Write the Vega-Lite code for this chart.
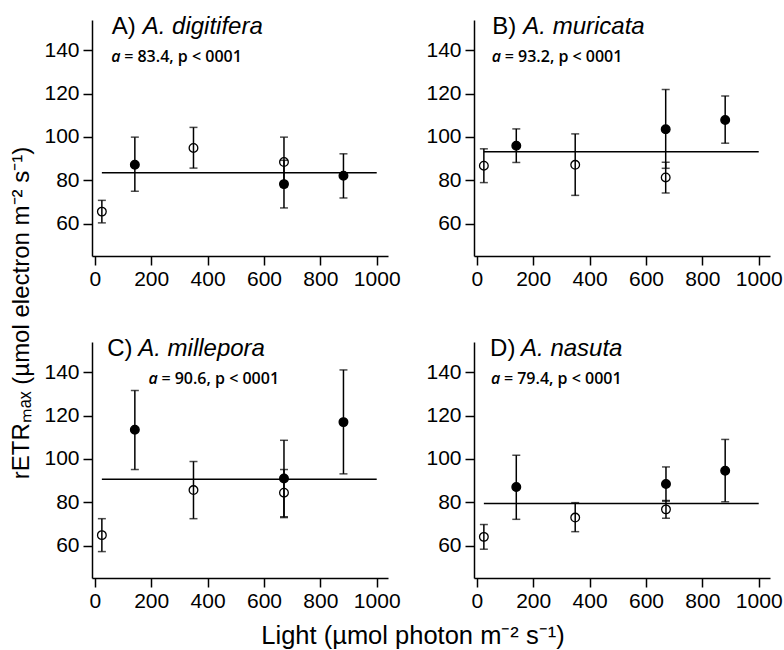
{
  "$schema": "https://vega.github.io/schema/vega-lite/v6.json",
  "padding": {"left": 9, "top": 15, "right": 2, "bottom": 2},
  "data": {"values": [
    {"kind": "pt", "r": "1", "c": "1", "x": 25, "y": 65.5, "lo": 60.3, "hi": 70.7, "t": "open"},
    {"kind": "pt", "r": "1", "c": "1", "x": 142, "y": 87.1, "lo": 74.9, "hi": 99.9, "t": "filled"},
    {"kind": "pt", "r": "1", "c": "1", "x": 350, "y": 94.9, "lo": 85.6, "hi": 104.4, "t": "open"},
    {"kind": "pt", "r": "1", "c": "1", "x": 671, "y": 88.4, "lo": 77.0, "hi": 99.9, "t": "open"},
    {"kind": "pt", "r": "1", "c": "1", "x": 671, "y": 78.2, "lo": 67.2, "hi": 89.2, "t": "filled"},
    {"kind": "pt", "r": "1", "c": "1", "x": 882, "y": 82.1, "lo": 71.8, "hi": 92.2, "t": "filled"},
    {"kind": "pt", "r": "1", "c": "2", "x": 25, "y": 86.7, "lo": 78.9, "hi": 94.5, "t": "open"},
    {"kind": "pt", "r": "1", "c": "2", "x": 140, "y": 95.9, "lo": 88.2, "hi": 103.7, "t": "filled"},
    {"kind": "pt", "r": "1", "c": "2", "x": 349, "y": 87.1, "lo": 73.0, "hi": 101.4, "t": "open"},
    {"kind": "pt", "r": "1", "c": "2", "x": 670, "y": 103.5, "lo": 85.5, "hi": 121.9, "t": "filled"},
    {"kind": "pt", "r": "1", "c": "2", "x": 670, "y": 81.3, "lo": 74.1, "hi": 88.3, "t": "open"},
    {"kind": "pt", "r": "1", "c": "2", "x": 881, "y": 107.8, "lo": 97.1, "hi": 118.9, "t": "filled"},
    {"kind": "pt", "r": "2", "c": "1", "x": 25, "y": 64.8, "lo": 57.2, "hi": 72.4, "t": "open"},
    {"kind": "pt", "r": "2", "c": "1", "x": 142, "y": 113.5, "lo": 95.1, "hi": 131.6, "t": "filled"},
    {"kind": "pt", "r": "2", "c": "1", "x": 350, "y": 85.6, "lo": 72.4, "hi": 98.8, "t": "open"},
    {"kind": "pt", "r": "2", "c": "1", "x": 671, "y": 91.0, "lo": 73.3, "hi": 108.6, "t": "filled"},
    {"kind": "pt", "r": "2", "c": "1", "x": 671, "y": 84.4, "lo": 72.9, "hi": 95.1, "t": "open"},
    {"kind": "pt", "r": "2", "c": "1", "x": 882, "y": 117.0, "lo": 93.1, "hi": 141.1, "t": "filled"},
    {"kind": "pt", "r": "2", "c": "2", "x": 25, "y": 64.0, "lo": 58.3, "hi": 69.7, "t": "open"},
    {"kind": "pt", "r": "2", "c": "2", "x": 140, "y": 87.0, "lo": 72.1, "hi": 101.7, "t": "filled"},
    {"kind": "pt", "r": "2", "c": "2", "x": 349, "y": 72.9, "lo": 66.4, "hi": 79.8, "t": "open"},
    {"kind": "pt", "r": "2", "c": "2", "x": 671, "y": 88.4, "lo": 80.5, "hi": 96.3, "t": "filled"},
    {"kind": "pt", "r": "2", "c": "2", "x": 671, "y": 76.7, "lo": 72.6, "hi": 80.8, "t": "open"},
    {"kind": "pt", "r": "2", "c": "2", "x": 881, "y": 94.5, "lo": 80.2, "hi": 109.0, "t": "filled"},
    {"kind": "lab", "r": "1", "c": "1", "letter": "A)", "species": "A. digitifera", "alpha": 83.4, "stat": "= 83.4, p < 0001", "lx": 60, "ax": 58},
    {"kind": "lab", "r": "1", "c": "2", "letter": "B)", "species": "A. muricata", "alpha": 93.2, "stat": "= 93.2, p < 0001", "lx": 55, "ax": 53},
    {"kind": "lab", "r": "2", "c": "1", "letter": "C)", "species": "A. millepora", "alpha": 90.6, "stat": "= 90.6, p < 0001", "lx": 44, "ax": 190},
    {"kind": "lab", "r": "2", "c": "2", "letter": "D)", "species": "A. nasuta", "alpha": 79.4, "stat": "= 79.4, p < 0001", "lx": 47, "ax": 50}
  ]},
  "facet": {
    "row": {"field": "r", "type": "nominal", "header": {"labels": false, "title": "rETRₘₐₓ (µmol electron m⁻² s⁻¹)       ", "titleFont": "Liberation Sans", "titleFontSize": 24, "titleFontWeight": "normal", "titleColor": "black", "titlePadding": -1}},
    "column": {"field": "c", "type": "nominal", "header": {"labels": false, "title": "Light (µmol photon m⁻² s⁻¹)            ", "titleOrient": "bottom", "titleFont": "Liberation Sans", "titleFontSize": 25.5, "titleFontWeight": "normal", "titleColor": "black", "titlePadding": 3}}
  },
  "spacing": {"row": 48, "column": 24},
  "resolve": {"axis": {"x": "independent", "y": "independent"}},
  "spec": {
    "width": 296,
    "height": 236,
    "layer": [
      {
        "transform": [{"filter": "datum.kind == 'pt'"}],
        "mark": {"type": "errorbar", "ticks": {"size": 8}, "thickness": 1.5, "color": "black"},
        "encoding": {
          "x": {"field": "x", "type": "quantitative", "title": null, "scale": {"domain": [-10, 1040], "nice": false, "zero": false}, "axis": {"values": [0, 200, 400, 600, 800, 1000], "format": "d", "title": null}},
          "y": {"field": "lo", "type": "quantitative", "title": null, "scale": {"domain": [45, 154], "nice": false, "zero": false}, "axis": {"values": [60, 80, 100, 120, 140], "format": "d", "title": null}},
          "y2": {"field": "hi"}
        }
      },
      {
        "transform": [{"filter": "datum.kind == 'lab'"}],
        "mark": {"type": "rule", "strokeWidth": 1.5, "color": "black"},
        "encoding": {
          "x": {"datum": 25, "type": "quantitative", "scale": {"domain": [-10, 1040], "nice": false, "zero": false}},
          "x2": {"datum": 1000},
          "y": {"field": "alpha", "type": "quantitative", "title": null, "scale": {"domain": [45, 154], "nice": false, "zero": false}}
        }
      },
      {
        "transform": [{"filter": "datum.kind == 'pt'"}],
        "mark": {"type": "point", "shape": "circle", "filled": true, "stroke": "black", "strokeWidth": 1.3, "size": 75, "opacity": 1},
        "encoding": {
          "x": {"field": "x", "type": "quantitative", "title": null, "scale": {"domain": [-10, 1040], "nice": false, "zero": false}},
          "y": {"field": "y", "type": "quantitative", "title": null, "scale": {"domain": [45, 154], "nice": false, "zero": false}},
          "fill": {"field": "t", "type": "nominal", "scale": {"domain": ["open", "filled"], "range": ["transparent", "black"]}, "legend": null}
        }
      },
      {
        "transform": [{"filter": "datum.kind == 'lab'"}],
        "mark": {"type": "text", "align": "left", "baseline": "alphabetic", "font": "Liberation Sans", "fontSize": 24, "color": "black"},
        "encoding": {
          "x": {"field": "lx", "type": "quantitative", "title": null, "scale": {"domain": [-10, 1040], "nice": false, "zero": false}},
          "y": {"datum": 147.5, "type": "quantitative", "scale": {"domain": [45, 154], "nice": false, "zero": false}},
          "text": {"field": "letter"}
        }
      },
      {
        "transform": [{"filter": "datum.kind == 'lab'"}],
        "mark": {"type": "text", "align": "left", "baseline": "alphabetic", "font": "Liberation Sans", "fontSize": 24, "fontStyle": "italic", "color": "black", "dx": 31},
        "encoding": {
          "x": {"field": "lx", "type": "quantitative", "title": null, "scale": {"domain": [-10, 1040], "nice": false, "zero": false}},
          "y": {"datum": 147.5, "type": "quantitative", "scale": {"domain": [45, 154], "nice": false, "zero": false}},
          "text": {"field": "species"}
        }
      },
      {
        "transform": [{"filter": "datum.kind == 'lab'"}],
        "mark": {"type": "text", "align": "left", "baseline": "alphabetic", "font": "Open Sans", "fontSize": 16, "fontStyle": "italic", "fontWeight": 600, "color": "black", "text": "a"},
        "encoding": {
          "x": {"field": "ax", "type": "quantitative", "title": null, "scale": {"domain": [-10, 1040], "nice": false, "zero": false}},
          "y": {"datum": 134.5, "type": "quantitative", "scale": {"domain": [45, 154], "nice": false, "zero": false}}
        }
      },
      {
        "transform": [{"filter": "datum.kind == 'lab'"}],
        "mark": {"type": "text", "align": "left", "baseline": "alphabetic", "font": "Open Sans", "fontSize": 16, "fontWeight": 600, "color": "black", "dx": 13},
        "encoding": {
          "x": {"field": "ax", "type": "quantitative", "title": null, "scale": {"domain": [-10, 1040], "nice": false, "zero": false}},
          "y": {"datum": 134.5, "type": "quantitative", "scale": {"domain": [45, 154], "nice": false, "zero": false}},
          "text": {"field": "stat"}
        }
      }
    ]
  },
  "config": {
    "view": {"stroke": null},
    "axis": {"domainColor": "black", "domainWidth": 1.5, "tickColor": "black", "tickWidth": 1.5, "tickSize": 9, "labelFont": "Liberation Sans", "labelFontSize": 21, "labelColor": "black", "labelPadding": 4, "grid": false},
    "axisX": {"labelPadding": 3}
  }
}
